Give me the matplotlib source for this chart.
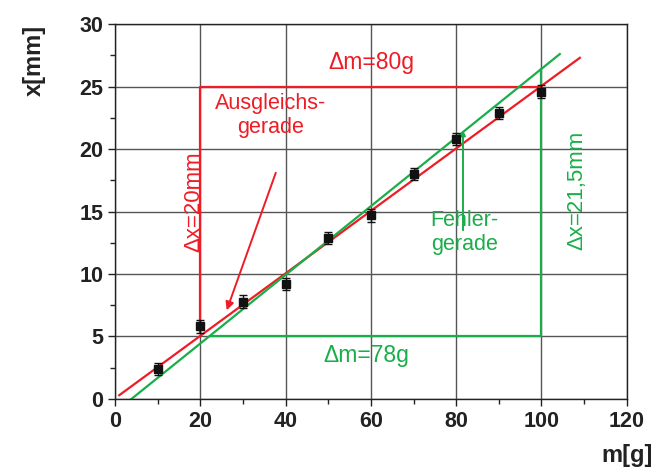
import matplotlib
matplotlib.use("Agg")
from matplotlib import pyplot as plt
from matplotlib.ticker import MultipleLocator

plt.rcParams['font.family'] = ['Liberation Sans', 'DejaVu Sans']

# measured points
mass = [10, 20, 30, 40, 50, 60, 70, 80, 90, 100]
dist = [2.4, 5.8, 7.8, 9.2, 12.9, 14.7, 18.0, 20.8, 22.9, 24.6]
dist_err = [0.5, 0.5, 0.5, 0.5, 0.5, 0.5, 0.5, 0.5, 0.5, 0.5]

# Ausgleichsgerade (best fit) and Fehlergerade (error line) end points
fit_x = [1, 109]
fit_y = [0.3, 27.3]
err_x = [3.85, 104.3]
err_y = [0.0, 27.6]

# slope triangles
red_tri_x = [20, 20, 100]
red_tri_y = [5.3, 25, 25]
green_tri_x = [22.3, 100, 100]
green_tri_y = [5, 5, 26.4]

RED = "#ee1c25"
GREEN = "#1aae4a"

fig = plt.figure(figsize=(6.57, 4.72), dpi=100)
ax = fig.add_axes([0.175, 0.1547, 0.779, 0.7943])

ax.set_xlim(0, 120)
ax.set_ylim(0, 30)
ax.xaxis.set_major_locator(MultipleLocator(20))
ax.xaxis.set_minor_locator(MultipleLocator(10))
ax.yaxis.set_major_locator(MultipleLocator(5))
ax.yaxis.set_minor_locator(MultipleLocator(2.5))
ax.grid(True, which="major", color="#555555", linewidth=1.0)
ax.set_axisbelow(True)
ax.tick_params(which="both", direction="out", width=1.0, color="#222222")
ax.tick_params(which="major", length=5)
ax.tick_params(which="minor", length=3.5)
for lab in ax.get_xticklabels() + ax.get_yticklabels():
    lab.set_fontweight("bold")
    lab.set_fontsize(15.5)
    lab.set_color("#222222")
for s in ax.spines.values():
    s.set_color("#222222")
    s.set_linewidth(1.0)

ax.plot(red_tri_x, red_tri_y, color=RED, linewidth=1.6)
ax.plot(green_tri_x, green_tri_y, color=GREEN, linewidth=1.6)
ax.plot(fit_x, fit_y, color=RED, linewidth=1.6)
ax.plot(err_x, err_y, color=GREEN, linewidth=1.6)

ax.errorbar(mass, dist, yerr=dist_err, fmt="s", color="#111111",
            markersize=6, capsize=3, elinewidth=1.0, capthick=1.0, zorder=5)

# arrows to the lines
ax.annotate("", xy=(26.2, 7.1), xytext=(37.7, 18.1),
            arrowprops=dict(arrowstyle="-|>", color=RED, lw=1.4,
                            mutation_scale=12, shrinkA=0, shrinkB=0))
ax.annotate("", xy=(81.6, 21.5), xytext=(81.6, 13.5),
            arrowprops=dict(arrowstyle="-|>", color=GREEN, lw=1.4,
                            mutation_scale=7, shrinkA=0, shrinkB=0))

ax.text(60.2, 26.9, "Δm=80g", color=RED, fontsize=16.5, ha="center", va="center")
ax.text(36.5, 22.7, "Ausgleichs-\ngerade", color=RED, fontsize=15.5,
        ha="center", va="center", linespacing=1.2)
ax.text(18.5, 15.8, "Δx=20mm", color=RED, fontsize=16, rotation=90,
        ha="center", va="center")
ax.text(59, 3.5, "Δm=78g", color=GREEN, fontsize=16.5, ha="center", va="center")
ax.text(82, 13.3, "Fehler-\ngerade", color=GREEN, fontsize=15.5,
        ha="center", va="center", linespacing=1.2)
ax.text(108.3, 16.7, "Δx=21,5mm", color=GREEN, fontsize=16, rotation=90,
        ha="center", va="center")

fig.text(0.053, 0.873, "x[mm]", fontsize=17, fontweight="bold", rotation=90,
         ha="center", va="center", color="#222222")
fig.text(0.955, 0.035, "m[g]", fontsize=17, fontweight="bold",
         ha="center", va="center", color="#222222")

fig.savefig("out.png", dpi=100)
